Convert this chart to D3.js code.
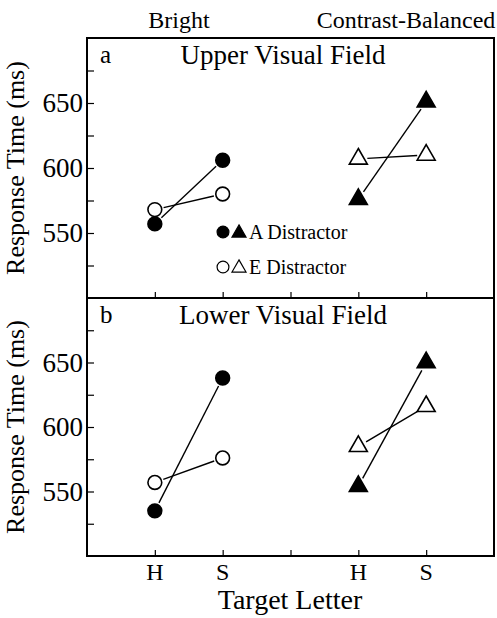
<!DOCTYPE html>
<html>
<head>
<meta charset="utf-8">
<script src="https://cdn.jsdelivr.net/npm/d3@7"></script>
<style>
  body { margin: 0; background: #fff; }
  text { font-family: "Liberation Serif", "Times New Roman", serif; fill: #000; }
</style>
</head>
<body>
<div id="chart"></div>
<script>
// target letters and where they sit on the x axis
var letters = ["H", "S"];
var brightX = [1, 2];
var balancedX = [4, 5];
var xTicks = [1, 2, 3, 4, 5];
var xTickLabels = ["H", "S", "", "H", "S"];

// response times (ms)
var upperBrightA = [557, 606];
var upperBrightE = [568, 580];
var upperBalancedA = [576, 651];
var upperBalancedE = [607, 610];

var lowerBrightA = [535, 638];
var lowerBrightE = [557, 576];
var lowerBalancedA = [554, 650];
var lowerBalancedE = [585, 616];

var yTicks = [525, 550, 575, 600, 625, 650, 675];
var yLabels = [550, 600, 650];

var panels = [
  { id: "a", title: "Upper Visual Field", top: 38, bottom: 298,
    series: [
      { x: brightX, y: upperBrightA, shape: "circle", filled: true },
      { x: brightX, y: upperBrightE, shape: "circle", filled: false },
      { x: balancedX, y: upperBalancedA, shape: "triangle", filled: true },
      { x: balancedX, y: upperBalancedE, shape: "triangle", filled: false }
    ] },
  { id: "b", title: "Lower Visual Field", top: 298, bottom: 556,
    series: [
      { x: brightX, y: lowerBrightA, shape: "circle", filled: true },
      { x: brightX, y: lowerBrightE, shape: "circle", filled: false },
      { x: balancedX, y: lowerBalancedA, shape: "triangle", filled: true },
      { x: balancedX, y: lowerBalancedE, shape: "triangle", filled: false }
    ] }
];

var W = 497, H = 618;
var left = 87, right = 494;

var svg = d3.select("#chart").append("svg")
  .attr("width", W).attr("height", H);

var x = d3.scaleLinear().domain([0, 6]).range([left, right]);

// condition headers above the plot
svg.append("text").attr("x", 179).attr("y", 28)
  .attr("text-anchor", "middle").style("font-size", "24px")
  .text("Bright");
svg.append("text").attr("x", 406).attr("y", 28)
  .attr("text-anchor", "middle").style("font-size", "24px")
  .text("Contrast-Balanced");

function symbolPath(shape, size) {
  var t = shape == "circle" ? d3.symbolCircle : d3.symbolTriangle;
  return d3.symbol().type(t).size(size)();
}

panels.forEach(function(p) {
  var y = d3.scaleLinear().domain([500, 700]).range([p.bottom, p.top]);
  var g = svg.append("g");

  // y axis, ticks pointing inward
  g.append("g")
    .attr("transform", "translate(" + left + ",0)")
    .call(d3.axisRight(y).tickValues(yTicks).tickSize(7).tickFormat(""))
    .call(function(a) { a.select(".domain").remove(); });

  g.selectAll(".ylab").data(yLabels).enter().append("text")
    .attr("x", left - 4).attr("y", function(d) { return y(d); })
    .attr("dy", "0.35em").attr("text-anchor", "end")
    .style("font-size", "27px")
    .text(function(d) { return d; });

  // x axis ticks pointing upward
  g.append("g")
    .attr("transform", "translate(0," + p.bottom + ")")
    .call(d3.axisTop(x).tickValues(xTicks).tickSize(6).tickFormat(""))
    .call(function(a) { a.select(".domain").remove(); });

  g.selectAll(".tick line").attr("stroke", "#000").attr("stroke-width", 1.2);

  // frame
  g.append("rect")
    .attr("x", left).attr("y", p.top)
    .attr("width", right - left).attr("height", p.bottom - p.top)
    .attr("fill", "none").attr("stroke", "#000").attr("stroke-width", 2);

  g.append("text").attr("x", 100).attr("y", p.top + 25)
    .style("font-size", "25px").text(p.id);
  g.append("text").attr("x", 283).attr("y", p.top + 26)
    .attr("text-anchor", "middle").style("font-size", "27px").text(p.title);

  g.append("text")
    .attr("transform", "translate(24," + ((p.top + p.bottom) / 2) + ") rotate(-90)")
    .attr("text-anchor", "middle").style("font-size", "26px")
    .text("Response Time (ms)");

  // lines between the two letters, stopping short of the markers
  p.series.forEach(function(s) {
    var x1 = x(s.x[0]), y1 = y(s.y[0]), x2 = x(s.x[1]), y2 = y(s.y[1]);
    var dx = x2 - x1, dy = y2 - y1, len = Math.sqrt(dx * dx + dy * dy);
    var gap = 9;
    g.append("line")
      .attr("x1", x1 + dx / len * gap).attr("y1", y1 + dy / len * gap)
      .attr("x2", x2 - dx / len * gap).attr("y2", y2 - dy / len * gap)
      .attr("stroke", "#000").attr("stroke-width", 1.4);
  });

  p.series.forEach(function(s) {
    g.selectAll(null).data(s.y).enter().append("path")
      .attr("d", symbolPath(s.shape, s.shape == "circle" ? 150 : 140))
      .attr("transform", function(d, i) { return "translate(" + x(s.x[i]) + "," + y(d) + ")"; })
      .attr("fill", s.filled ? "#000" : "#fff")
      .attr("stroke", "#000").attr("stroke-width", 1.6);
  });
});

// legend inside panel a
var legend = [
  { label: "A Distractor", filled: true, y: 232 },
  { label: "E Distractor", filled: false, y: 267 }
];
legend.forEach(function(l) {
  svg.append("path").attr("d", symbolPath("circle", 110))
    .attr("transform", "translate(223," + l.y + ")")
    .attr("fill", l.filled ? "#000" : "#fff").attr("stroke", "#000").attr("stroke-width", 1.2);
  svg.append("path").attr("d", symbolPath("triangle", 85))
    .attr("transform", "translate(239," + (l.y + 1) + ")")
    .attr("fill", l.filled ? "#000" : "#fff").attr("stroke", "#000").attr("stroke-width", 1.2);
  svg.append("text").attr("x", 249).attr("y", l.y + 7)
    .style("font-size", "20px").text(l.label);
});

// x tick labels and axis title
svg.selectAll(".xlab").data(xTicks).enter().append("text")
  .attr("x", function(d) { return x(d); }).attr("y", 580)
  .attr("text-anchor", "middle").style("font-size", "24px")
  .text(function(d, i) { return xTickLabels[i]; });

svg.append("text").attr("x", 290).attr("y", 609)
  .attr("text-anchor", "middle").style("font-size", "28px")
  .text("Target Letter");
</script>
</body>
</html>
